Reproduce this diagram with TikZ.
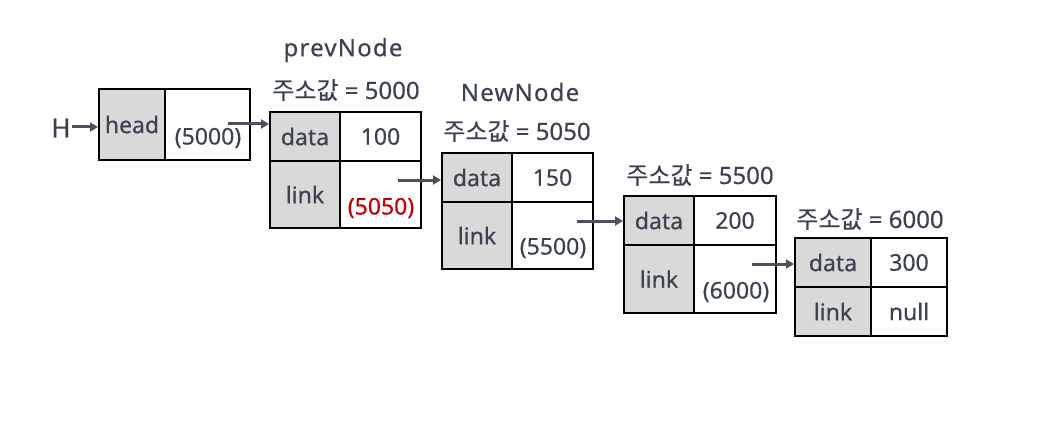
\documentclass[tikz,border=0pt]{standalone}
\usepackage{fontspec}
\setmainfont{Noto Sans}[FakeBold=0.4]
\newfontfamily\kr{Noto Sans CJK KR}[FakeBold=0.3]
\newfontfamily\ttl{Noto Sans}[FakeBold=0.4,LetterSpace=5]
\usetikzlibrary{arrows.meta}
\definecolor{txt}{HTML}{3C4250}
\definecolor{arrc}{HTML}{50505C}
\definecolor{cellgray}{HTML}{D9D9D9}
\definecolor{redv}{HTML}{C00000}
\newcommand{\addr}[1]{{\kr 주소값} = #1}
\tikzset{
  cell/.style={draw=black, line width=2pt, inner sep=0pt, rectangle, text=txt, font=\fontsize{23}{26}\selectfont},
  gcell/.style={cell, fill=cellgray},
  lbl/.style={text=txt, inner sep=0pt, font=\fontsize{23}{26}\selectfont},
  albl/.style={text=txt, inner sep=0pt, font=\fontsize{24}{26}\selectfont},
  ttlbl/.style={text=txt, inner sep=0pt, font=\ttl\fontsize{24}{26}\selectfont},
  arr/.style={draw=arrc, line width=3pt, -{Triangle[length=8pt,width=9pt]}}
}
\begin{document}
\begin{tikzpicture}[x=1pt,y=-1pt]
\useasboundingbox (0,0) rectangle (1055,425);
% H and head
\node[lbl, font=\fontsize{26}{28}\selectfont] (H) at (61,128) {H};
\node[gcell, minimum width=66, minimum height=71] (hk) at (132,124.5) {head};
\node[cell, minimum width=85, minimum height=71] (hv) at (207.5,124.5) {};
\node[lbl] (hvt) at (208,138) {(5000)};
\coordinate (h0) at (72,127);
\draw[arr] (h0) -- (h0 -| hk.west);
% prevNode
\node[ttlbl] (pn) at (343,50) {prevNode};
\node[albl] (pa) at (346,90) {\addr{5000}};
\node[gcell, minimum width=70, minimum height=49] (pd) at (305,136.5) {data};
\node[cell, minimum width=81, minimum height=49] (pdv) at (380.5,136.5) {100};
\node[gcell, minimum width=70, minimum height=67] (pl) at (305,194.5) {link};
\node[cell, minimum width=81, minimum height=67] (plv) at (380.5,194.5) {};
\node[lbl, text=redv] (plt) at (381,208) {(5050)};
% NewNode
\node[ttlbl] (nn) at (520,92) {NewNode};
\node[albl] (na) at (517,131) {\addr{5050}};
\node[gcell, minimum width=70, minimum height=49] (nd) at (477,177.5) {data};
\node[cell, minimum width=81, minimum height=49] (ndv) at (552.5,177.5) {150};
\node[gcell, minimum width=70, minimum height=67] (nl) at (477,235.5) {link};
\node[cell, minimum width=81, minimum height=67] (nlv) at (552.5,235.5) {};
\node[lbl] (nlt) at (553,248) {(5500)};
% node 5500
\node[albl] (ta) at (700,175) {\addr{5500}};
\node[gcell, minimum width=70, minimum height=49] (td) at (659,220.5) {data};
\node[cell, minimum width=82, minimum height=49] (tdv) at (735,220.5) {200};
\node[gcell, minimum width=70, minimum height=68] (tl) at (659,279) {link};
\node[cell, minimum width=82, minimum height=68] (tlv) at (735,279) {};
\node[lbl] (tlt) at (736,292) {(6000)};
% node 6000
\node[albl] (fa) at (870,219) {\addr{6000}};
\node[gcell, minimum width=76, minimum height=49] (fd) at (833,262.5) {data};
\node[cell, minimum width=76, minimum height=49] (fdv) at (909,262.5) {300};
\node[gcell, minimum width=76, minimum height=49] (fl) at (833,311.5) {link};
\node[cell, minimum width=76, minimum height=49] (flv) at (909,311.5) {null};
% connectors
\coordinate (s1) at (228,124);
\draw[arr] (s1) -- (s1 -| pd.west);
\coordinate (s2) at (398,180);
\draw[arr] (s2) -- (s2 -| nd.west);
\coordinate (s3) at (577,221);
\draw[arr] (s3) -- (s3 -| td.west);
\coordinate (s4) at (752,264);
\draw[arr] (s4) -- (s4 -| fd.west);
\end{tikzpicture}
\end{document}
